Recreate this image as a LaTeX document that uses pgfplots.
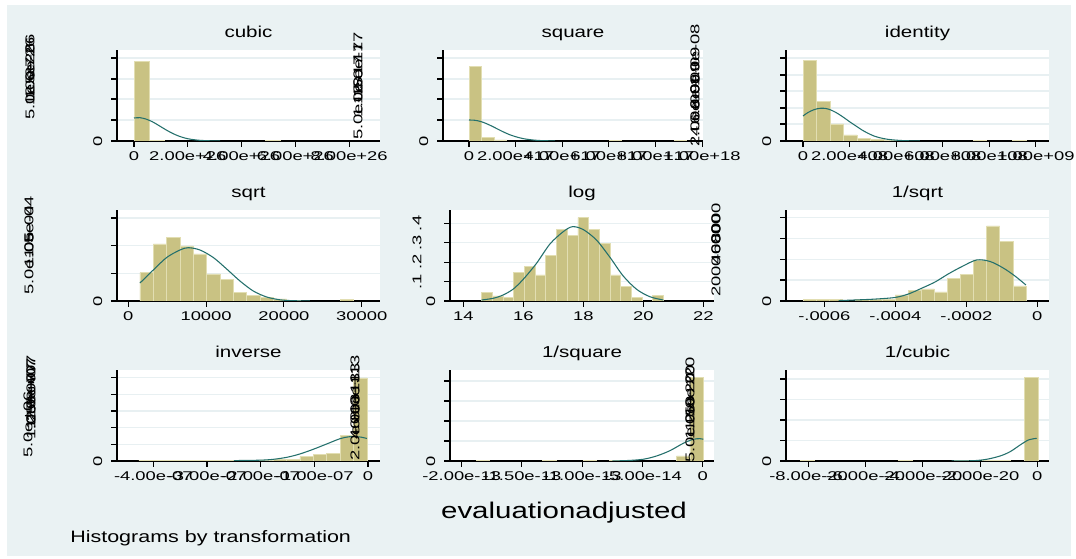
\documentclass[border=0pt]{standalone}
\usepackage{fontspec}
\setmainfont{Liberation Sans}[FakeStretch=1.3]
\newfontfamily\tickfam{Liberation Sans}[FakeStretch=1.45]
\usepackage{pgfplots}
\pgfplotsset{compat=1.18}
\definecolor{bg}{RGB}{234,242,243}
\definecolor{barfill}{RGB}{201,194,131}
\definecolor{baredge}{RGB}{226,222,178}
\definecolor{kern}{RGB}{36,112,108}
\definecolor{gridc}{RGB}{232,240,242}
\newcommand\tickfont{\tickfam\fontsize{9.5}{11}\selectfont}
\newcommand\pxy[2]{({(#1)*0.75pt},{(559-(#2))*0.75pt})}
\newcommand\rl[3]{\node[rotate=90,anchor=west,inner sep=0pt,font=\tickfont] at \pxy{#1}{#2} {#3};}
\pgfplotsset{
  panel/.style={anchor=south west, scale only axis, height=68.25pt, ymin=0, ymax=91,
    scaled ticks=false,
    axis x line=bottom, axis y line=left, axis line style={-, line width=0.8pt, black},
    tick align=outside, major tick length=4.5pt, tick style={line width=0.8pt, black},
    ymajorgrids, grid style={gridc, line width=0.8pt},
    axis background/.style={fill=white},
    tick label style={font=\tickfont},
    yticklabel style={rotate=90, anchor=south},
    yticklabel shift=3pt,
    title style={font=\fontsize{11.85}{13}\selectfont, at={(0.5,1)}, anchor=base, yshift=3.2pt},
    clip=true},
  bars/.style={ybar interval, fill=barfill, draw=baredge, line width=0.5pt},
  kd/.style={kern, line width=0.8pt, smooth, mark=none},
}
\begin{document}
\begin{tikzpicture}
\useasboundingbox (0,0) rectangle (807pt,419.25pt);
\fill[white] (0,0) rectangle (807pt,419.25pt);
\fill[bg] \pxy{7}{556} rectangle \pxy{1071}{5};

% ---- cubic
\begin{axis}[panel, at={(87.75pt,313.5pt)}, width=197.25pt, xmin=-0.633, xmax=9.15,
  xtick={0,2,4,6,8}, xticklabels={0,2.00e+26,4.00e+26,6.00e+26,8.00e+26},
  ytick={0,21,42,62,83}, yticklabels={0,,,,}, title={cubic}]
\addplot[bars] coordinates {(0,79.7) (0.558,0.9) (1.116,0)};
\addplot[bars] coordinates {(4.87,0.9) (5.43,0)};
\addplot[kd] coordinates {(0,23.0) (0.223,23.3) (0.447,21.9) (0.67,19.4) (0.893,16) (1.116,12.3) (1.34,8.9) (1.563,6) (1.786,3.8) (2.01,2.2) (2.307,1) (2.679,0.3) (3.2,0.05)};
\end{axis}

% ---- square
\begin{axis}[panel, at={(332.25pt,313.5pt)}, width=195pt, xmin=-1.116, xmax=10.04,
  xtick={0,2,4,6,8,10}, xticklabels={0,2.00e+17,4.00e+17,6.00e+17,8.00e+17,1.00e+18},
  ytick={0,21,42,62,83}, yticklabels={0,,,,}, title={square}]
\addplot[bars] coordinates {(0,74.3) (0.54,3.3) (1.08,1) (1.62,0)};
\addplot[bars] coordinates {(6.0,0.9) (6.54,0)};
\addplot[bars] coordinates {(8.8,0.9) (9.34,0)};
\addplot[kd] coordinates {(0,21) (0.258,20.7) (0.515,19.4) (0.773,17.1) (1.03,14.3) (1.288,11.2) (1.545,8.3) (1.803,5.8) (2.06,3.9) (2.318,2.4) (2.661,1.2) (3.09,0.4) (3.69,0.07)};
\end{axis}

% ---- identity
\begin{axis}[panel, at={(589.5pt,313.5pt)}, width=197.25pt, xmin=-0.73, xmax=10.56,
  xtick={0,2,4,6,8,10}, xticklabels={0,2.00e+08,4.00e+08,6.00e+08,8.00e+08,1.00e+09},
  ytick={0,17,33,50,66,83}, yticklabels={0,,,,,}, title={identity}]
\addplot[bars] coordinates {(0,80.3) (0.58,39.3) (1.16,17) (1.74,6) (2.32,2.7) (2.9,1.5) (3.48,0.8) (4.06,0)};
\addplot[bars] coordinates {(7.3,1) (7.88,0)};
\addplot[bars] coordinates {(9.0,1) (9.58,0)};
\addplot[kd] coordinates {(0,25) (0.215,28.5) (0.472,31.3) (0.73,32.7) (0.987,32.5) (1.245,30.5) (1.502,27.3) (1.76,23.3) (2.017,19) (2.275,15) (2.532,11) (2.79,7.7) (3.047,5) (3.305,3.2) (3.605,1.8) (3.906,1) (4.378,0.3) (5.021,0.05)};
\end{axis}

% ---- sqrt
\begin{axis}[panel, at={(87.75pt,193.5pt)}, width=197.25pt, xmin=-1450, xmax=32350,
  xtick={0,10000,20000,30000}, xticklabels={0,10000,20000,30000},
  ytick={0,27.7,55.3,83}, yticklabels={0,,,}, title={sqrt}]
\addplot[bars] coordinates {(1504,28.3) (3218,57) (4932,63.7) (6646,55) (8360,47) (10074,27) (11788,21.7) (13502,8.7) (15216,5.3) (16930,3.7) (18644,2) (20358,0.7) (22072,0)};
\addplot[bars] coordinates {(27214,2) (28928,0)};
\addplot[kd] coordinates {(1504,18) (3213,31) (4934,43.5) (6643,51) (7710,53.3) (9211,51) (10923,43.5) (12644,32) (14353,20) (16063,10) (17784,4) (19493,1.2) (21165,0.3) (23350,0.05)};
\end{axis}

% ---- log
\begin{axis}[panel, at={(337.5pt,193.5pt)}, width=198pt, xmin=13.557, xmax=22.357, ymax=0.469,
  xtick={14,16,18,20,22}, xticklabels={14,16,18,20,22},
  ytick={0,0.1,0.2,0.3,0.4}, yticklabels={0,,,,}, title={log}]
\addplot[bars] coordinates {(14.61,0.045) (14.967,0.026) (15.323,0.017) (15.68,0.148) (16.036,0.177) (16.393,0.134) (16.749,0.235) (17.106,0.369) (17.462,0.340) (17.819,0.430) (18.175,0.369) (18.532,0.296) (18.888,0.134) (19.245,0.074) (19.601,0.017) (19.958,0)};
\addplot[bars] coordinates {(20.314,0.031) (20.671,0)};
\addplot[kd] coordinates {(14.61,0.005) (15.0,0.014) (15.33,0.031) (15.67,0.062) (16.0,0.112) (16.44,0.194) (16.89,0.294) (17.33,0.357) (17.64,0.383) (18.0,0.368) (18.44,0.314) (18.89,0.225) (19.33,0.129) (19.78,0.060) (20.22,0.022) (20.67,0.005)};
\end{axis}

% ---- 1/sqrt
\begin{axis}[panel, at={(589.5pt,193.5pt)}, width=197.25pt, xmin=-7.08, xmax=0.33,
  xtick={-6,-4,-2,0}, xticklabels={-.0006,-.0004,-.0002,0},
  ytick={0,21,41.7,62.7,83.3}, yticklabels={0,,,,}, title={1/sqrt}]
\addplot[bars] coordinates {(-6.59,1.7) (-6.221,1.7) (-5.852,1.7) (-5.484,0)};
\addplot[bars] coordinates {(-5.115,1.3) (-4.746,1.3) (-4.377,1.7) (-4.008,6) (-3.640,10.3) (-3.271,12) (-2.902,9) (-2.533,22.3) (-2.164,26.7) (-1.796,41) (-1.427,75) (-1.058,59.3) (-0.689,15) (-0.320,0)};
\addplot[kd] coordinates {(-5.6,0.4) (-5.14,1) (-4.62,1.8) (-4.01,3.5) (-3.63,7) (-3.26,12.7) (-2.88,19) (-2.51,27) (-2.13,34.3) (-1.71,41) (-1.33,39.5) (-0.96,33) (-0.63,25) (-0.32,16)};
\end{axis}

% ---- inverse
\begin{axis}[panel, at={(87.75pt,73.5pt)}, width=197.25pt, xmin=-4.677, xmax=0.224,
  xtick={-4,-3,-2,-1,0}, xticklabels={-4.00e-07,-3.00e-07,-2.00e-07,-1.00e-07,0},
  ytick={0,16.7,33.3,50,66.7,83.3}, yticklabels={0,,,,,}, title={inverse}]
\addplot[bars] coordinates {(-4.27,0.8) (-4.02,0.8) (-3.77,0.6) (-3.52,0.8) (-3.27,0.8) (-3.02,0.6) (-2.77,0.8) (-2.52,0.8) (-2.27,0.8) (-2.02,1) (-1.77,1.2) (-1.52,1.5) (-1.27,4.3) (-1.02,6.7) (-0.77,7.7) (-0.52,25.7) (-0.27,83) (-0.02,0)};
\addplot[kd] coordinates {(-2.5,0.4) (-2.01,0.8) (-1.76,1.7) (-1.51,3.7) (-1.27,7) (-1.02,11.7) (-0.77,17) (-0.52,22.3) (-0.34,24.3) (-0.15,24) (-0.02,22.5)};
\end{axis}

% ---- 1/square
\begin{axis}[panel, at={(337.5pt,73.5pt)}, width=198pt, xmin=-20.97, xmax=0.94,
  xtick={-20,-15,-10,-5,0}, xticklabels={-2.00e-13,-1.50e-13,-1.00e-13,-5.00e-14,0},
  ytick={0,20,40,60,80}, yticklabels={0,,,,}, title={1/square}]
\addplot[bars] coordinates {(-18.82,0.7) (-17.71,0)};
\addplot[bars] coordinates {(-13.27,0.7) (-12.16,0)};
\addplot[bars] coordinates {(-9.94,0.7) (-8.83,0)};
\addplot[bars] coordinates {(-7.72,0.7) (-6.61,0)};
\addplot[bars] coordinates {(-2.17,5) (-1.06,83.7) (0.05,0)};
\addplot[kd] coordinates {(-7.5,0.1) (-6.33,0.4) (-4.95,1.7) (-3.83,5) (-2.72,10.3) (-1.61,17.7) (-0.78,21.7) (-0.22,22.3) (0.05,21.7)};
\end{axis}

% ---- 1/cubic
\begin{axis}[panel, at={(589.5pt,73.5pt)}, width=197.25pt, xmin=-8.79, xmax=0.41,
  xtick={-8,-6,-4,-2,0}, xticklabels={-8.00e-20,-6.00e-20,-4.00e-20,-2.00e-20,0},
  ytick={0,20.3,41,61.7,82}, yticklabels={0,,,,}, title={1/cubic}]
\addplot[bars] coordinates {(-8.295,0.7) (-7.805,0)};
\addplot[bars] coordinates {(-4.865,0.7) (-4.375,0)};
\addplot[bars] coordinates {(-2.905,0.7) (-2.415,0)};
\addplot[bars] coordinates {(-1.925,0.7) (-1.435,0.7) (-0.945,0)};
\addplot[bars] coordinates {(-0.455,83.3) (0.035,0)};
\addplot[kd] coordinates {(-3.0,0.05) (-2.24,0.3) (-1.77,1.7) (-1.30,5) (-0.95,9.3) (-0.6,16) (-0.31,21) (-0.02,22.7)};
\end{axis}

% ---- overlapping density labels
\rl{30}{120}{5.0e-27}\rl{30}{106}{1.0e-26}\rl{30}{100}{1.5e-26}\rl{30}{97}{2.0e-26}
\rl{358}{140}{5.0e-18}\rl{358}{118}{1.0e-17}\rl{358}{105}{1.5e-17}\rl{358}{95}{2.0e-17}
\rl{695}{147}{2.0e-09}\rl{695}{137}{4.0e-09}\rl{695}{125}{6.0e-09}\rl{695}{110}{8.0e-09}\rl{695}{87}{1.0e-08}
\rl{29}{295}{5.0e-05}\rl{29}{268}{1.0e-04}\rl{29}{259}{1.5e-04}
\rl{716}{297}{2000}\rl{716}{265}{4000}\rl{716}{255}{6000}\rl{716}{244}{8000}
\rl{28}{458}{5.0e+06}\rl{31}{440}{1.0e+07}\rl{31}{430}{1.5e+07}\rl{31}{425}{2.0e+07}\rl{31}{422}{2.5e+07}
\rl{355}{461}{2.0e+13}\rl{355}{440}{4.0e+13}\rl{355}{430}{6.0e+13}\rl{355}{422}{8.0e+13}
\rl{690}{463}{5.0e+19}\rl{690}{440}{1.0e+20}\rl{690}{432}{1.5e+20}\rl{690}{424}{2.0e+20}
\node[rotate=90,inner sep=0pt,font=\tickfont] at \pxy{417}{281.6} {.1};
\node[rotate=90,inner sep=0pt,font=\tickfont] at \pxy{417}{262.2} {.2};
\node[rotate=90,inner sep=0pt,font=\tickfont] at \pxy{417}{242.8} {.3};
\node[rotate=90,inner sep=0pt,font=\tickfont] at \pxy{417}{223.4} {.4};

\node[anchor=base,inner sep=0pt,font=\fontsize{17}{20}\selectfont] at \pxy{564}{519} {evaluationadjusted};
\node[anchor=base west,inner sep=0pt,font=\fontsize{12.4}{14}\selectfont] at \pxy{70}{543} {Histograms by transformation};
\end{tikzpicture}
\end{document}
